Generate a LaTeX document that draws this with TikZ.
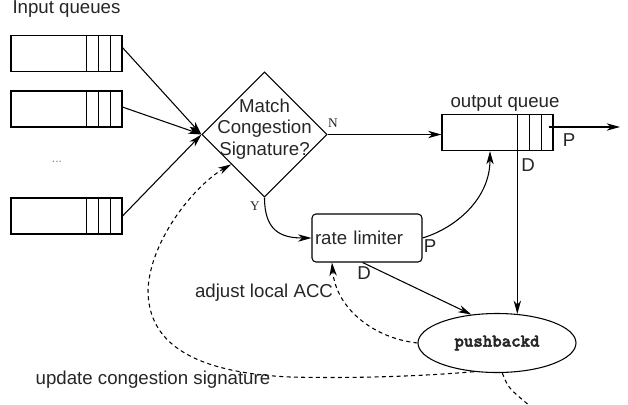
\documentclass[tikz,border=0pt]{standalone}
\usepackage{fontspec}
\setmainfont{Liberation Sans}
\setmonofont{Liberation Mono}
\newfontfamily\lblfont{Liberation Serif}
\newfontfamily\pbfont[FakeBold=2.5]{lmmonolt10-bold.otf}
\usetikzlibrary{arrows.meta,shapes.geometric}

\tikzset{
	queue/.style={draw, minimum width=83.25pt, minimum height=27pt, inner sep=0pt},
	arr/.style={-{Stealth[length=10pt,width=5.5pt,inset=3pt]}},
	fbk/.style={dash pattern={on 3pt off 2.5pt}},
	yn/.style={font=\lblfont\fontsize{10}{11}\selectfont},
}

\begin{document}
\begin{tikzpicture}[x=0.75pt,y=0.75pt,yscale=-1,line width=0.8pt,font=\fontsize{14}{16}\selectfont,text=black!85]
	\useasboundingbox (0,0) rectangle (628,404);
	
	%Shapes: input queues and output queue
	\node [queue] (q1) at (66.5,53.5) {};
	\node [queue] (q2) at (66.5,109) {};
	\node [queue] (q3) at (66.5,216) {};
	\node [queue] (oq) at (497.5,132.5) {};
	\foreach \q in {q1,q2,q3,oq}
		\foreach \d in {12,24,36}
			\draw (\q.north east) ++(-\d,0) -- ++(0,36);
	%Shape: Diamond
	\node [draw, diamond, minimum width=93.75pt, minimum height=93.75pt, inner sep=0pt] (match) at (264.5,134.5) {};
	\node [align=center, inner sep=0pt] (matchtxt) at (264.5,129) {Match\\Congestion\\Signature?};
	%Shape: Rounded rectangle
	\node [draw, rounded corners=3pt, text width=78pt, align=left, inner xsep=2.25pt, minimum height=36pt] (rl) at (367,238) {rate limiter};
	%Shape: Ellipse
	\node [draw, ellipse, minimum width=118.5pt, minimum height=44.25pt, inner sep=0pt, font=\pbfont\fontsize{13.5}{15}\selectfont] (ell) at (497,343) {pushbackd};
	\coordinate (out) at (620,127);
	\coordinate (offpage) at (530,406);
	
	%Straight Lines
	\draw [arr] (q1.6) -- (match.west);
	\draw [arr] (q2.2) -- (match.west);
	\draw [arr] (q3.east) -- (match.west);
	\draw [arr] (match.east) -- (match.east -| oq.west);
	\draw [arr] (oq.east) ++(-5,-5.5) -- (out);
	\draw [arr] (ell.55 |- oq.south) -- (ell.55);
	\draw [arr] (rl.-100) -- (ell.132);
	%Curve Lines
	\draw [arr] (match.south) .. controls +(0,32) and +(-32,0) .. (rl.west);
	\draw [arr] (rl.east) .. controls +(33,-10) and +(0,48) .. (oq.-112);
	\draw [arr, fbk] (ell.west) .. controls +(-45,-5) and +(4,45) .. (rl.-145);
	\draw [arr, fbk] (ell.-129) .. controls (400,378) and (330,378) .. (290,377) .. controls (180,372) and (148,335) .. (148,290) .. controls (150,240) and (195,185) .. (match.-138);
	\draw [fbk] (ell.-80) .. controls +(6,15) .. (offpage);
	
	% Text Node
	\node [anchor=base west, inner sep=0pt] (inlbl) at (12,13) {Input queues};
	\node [anchor=base, inner sep=0pt] (outlbl) at (505,107) {output queue};
	\node [text=gray, font=\fontsize{9}{9}\selectfont] (dots) at (57,162) {...};
	\node [yn] (nlbl) at (333,123) {N};
	\node [yn] (ylbl) at (255,206) {Y};
	\node (pout) at (569,140) {P};
	\node (dout) at (528,165) {D};
	\node (prl) at (430,246) {P};
	\node (drl) at (364,273) {D};
	\node (acclbl) at (264,293) {adjust local ACC};
	\node (siglbl) at (153,380) {update congestion signature};
\end{tikzpicture}
\end{document}
